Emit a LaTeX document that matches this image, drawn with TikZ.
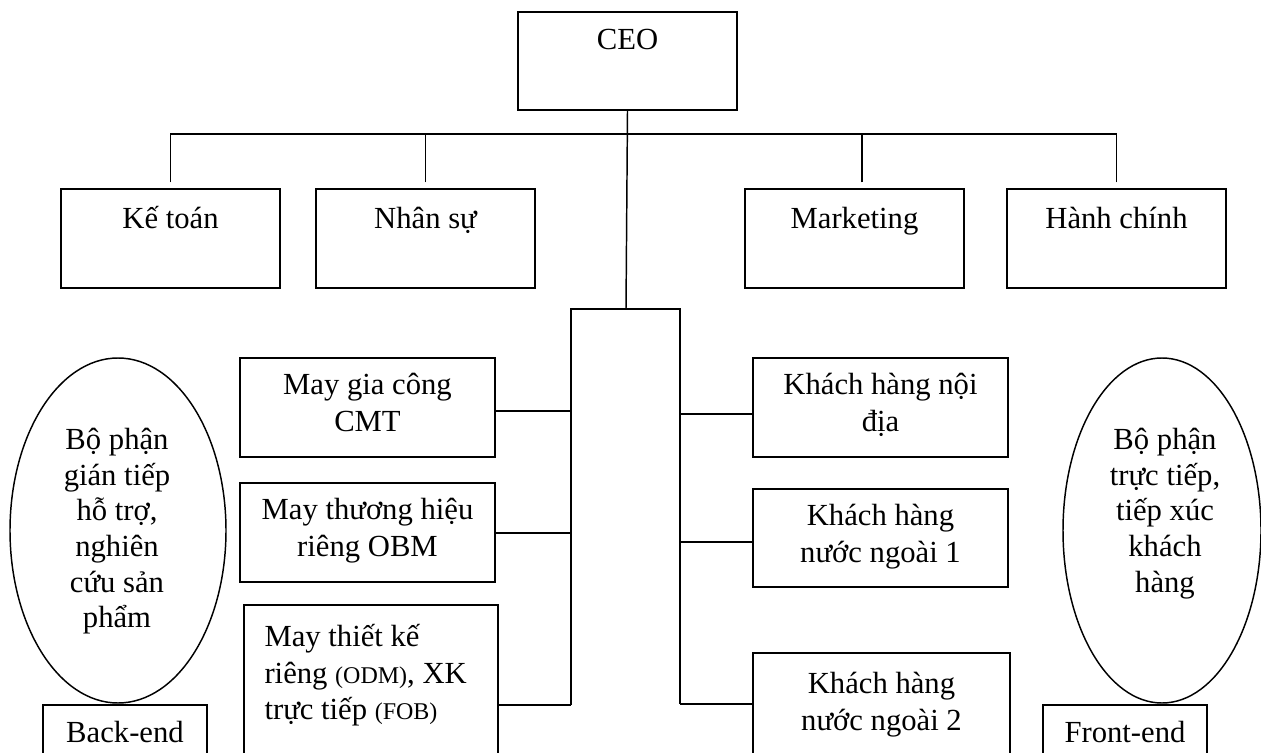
\documentclass[tikz,border=0pt]{standalone}
\usepackage{fontspec}
\setmainfont{Liberation Serif}
\usetikzlibrary{shapes.geometric}

% first-line strut: keeps the first baseline at a fixed distance below a node's top
\newcommand\fstrut{\rule{0pt}{24pt}}
\newcommand\smallpar[1]{{\fontsize{18}{27.5}\selectfont #1}}

% rectangle given by its pixel corners (x1,y1) and (x2,y2)
\newcommand\pbox[5]{%
  \node[box, minimum width={(#4-#2)*0.75pt}, minimum height={(#5-#3)*0.75pt}]
    (#1) at ({(#2+#4)/2},{(#3+#5)/2}) {};}

\tikzset{
  box/.style={draw, rectangle, line width=1.1pt, inner sep=0pt},
  oval/.style={draw, ellipse, line width=1.1pt, inner sep=0pt},
  txt/.style={inner sep=0pt, align=center, anchor=north,
              font=\fontsize{23}{27.5}\selectfont},
  ovaltxt/.style={txt, font=\fontsize{23}{26.8}\selectfont},
  wire/.style={line width=1.1pt},
}

\begin{document}
\begin{tikzpicture}[x=0.75pt, y=-0.75pt]
\useasboundingbox (0,0) rectangle (1261,753);

% ---- top level ----
\pbox{ceo}{518}{12}{737}{110}
\node[txt] (ceo-t) at ([yshift=-4.5pt]ceo.north) {\fstrut CEO};

\pbox{kt}{61}{189}{280}{288}
\pbox{ns}{316}{189}{535}{288}
\pbox{mk}{745}{189}{964}{288}
\pbox{hc}{1007}{189}{1226}{288}
\node[txt] (kt-t) at ([yshift=-6pt]kt.north) {\fstrut Kế toán};
\node[txt] (ns-t) at ([yshift=-6pt]ns.north) {\fstrut Nhân sự};
\node[txt] (mk-t) at ([yshift=-6pt]mk.north) {\fstrut Marketing};
\node[txt] (hc-t) at ([yshift=-6pt]hc.north) {\fstrut Hành chính};

\coordinate (hub) at (626,134);
\coordinate (split) at (626,309);
\draw[wire] (ceo.south) -- (split);
\draw[wire] (kt.north) ++(0,-6) |- (hub);
\draw[wire] (ns.north) ++(0,-6) |- (hub);
\draw[wire] ([xshift=5.6pt]mk.north) ++(0,-6) |- (hub);
\draw[wire] (hc.north) ++(0,-6) |- (hub);

% ---- production lines (left) and customers (right) ----
\coordinate (lbus) at (571,309);
\coordinate (rbus) at (680,309);
\coordinate (lend) at (571,705);
\coordinate (rend) at (680,704);
\draw[wire] (lend) -- (lbus) -- (rbus) -- (rend);

\pbox{gc}{240}{358}{495}{457}
\pbox{th}{240}{483}{495}{582}
\pbox{tk}{244}{605}{498}{775}
\node[txt] (gc-t) at ([yshift=-3.75pt]gc.north) {\fstrut May gia công\\CMT};
\node[txt] (th-t) at ([yshift=-3.75pt]th.north) {\fstrut May thương hiệu\\riêng OBM};
\node[txt, align=left, anchor=north west] (tk-t) at ([xshift=15.75pt, yshift=-7.5pt]tk.north west)
  {\fstrut May thiết kế\\riêng \smallpar{(ODM)}, XK\\trực tiếp \smallpar{(FOB)}};

\pbox{nd}{753}{358}{1008}{457}
\pbox{n1}{753}{489}{1008}{587}
\pbox{n2}{753}{653}{1010}{775}
\node[txt] (nd-t) at ([yshift=-3.75pt]nd.north) {\fstrut Khách hàng nội\\địa};
\node[txt] (n1-t) at ([yshift=-3.75pt]n1.north) {\fstrut Khách hàng\\nước ngoài 1};
\node[txt] (n2-t) at ([yshift=-7pt]n2.north) {\fstrut Khách hàng\\nước ngoài 2};

\coordinate (b1) at (571,411);
\coordinate (b2) at (571,533);
\coordinate (c1) at (680,414);
\coordinate (c2) at (680,542);
\draw[wire] (b1) -- (b1 -| gc.east);
\draw[wire] (b2) -- (b2 -| th.east);
\draw[wire] (lend) -- (lend -| tk.east);
\draw[wire] (c1) -- (c1 -| nd.west);
\draw[wire] (c2) -- (c2 -| n1.west);
\draw[wire] (rend) -- (rend -| n2.west);

% ---- side groups ----
\node[oval, minimum width={216*0.75pt}, minimum height={345*0.75pt}] (back) at (118,530.5) {};
\node[ovaltxt] (back-t) at (117,417)
  {\fstrut Bộ phận\\gián tiếp\\hỗ trợ,\\nghiên\\cứu sản\\phẩm};
\pbox{be}{43}{705}{207}{775}
\node[txt] (be-t) at ([yshift=-4.5pt]be.north) {\fstrut Back-end};

\node[oval, minimum width={198*0.75pt}, minimum height={345*0.75pt}] (front) at (1162,530.5) {};
\node[ovaltxt] (front-t) at (1165,417)
  {\fstrut Bộ phận\\trực tiếp,\\tiếp xúc\\khách\\hàng};
\pbox{fe}{1043}{705}{1207}{775}
\node[txt] (fe-t) at ([yshift=-4.5pt]fe.north) {\fstrut Front-end};
\end{tikzpicture}
\end{document}
